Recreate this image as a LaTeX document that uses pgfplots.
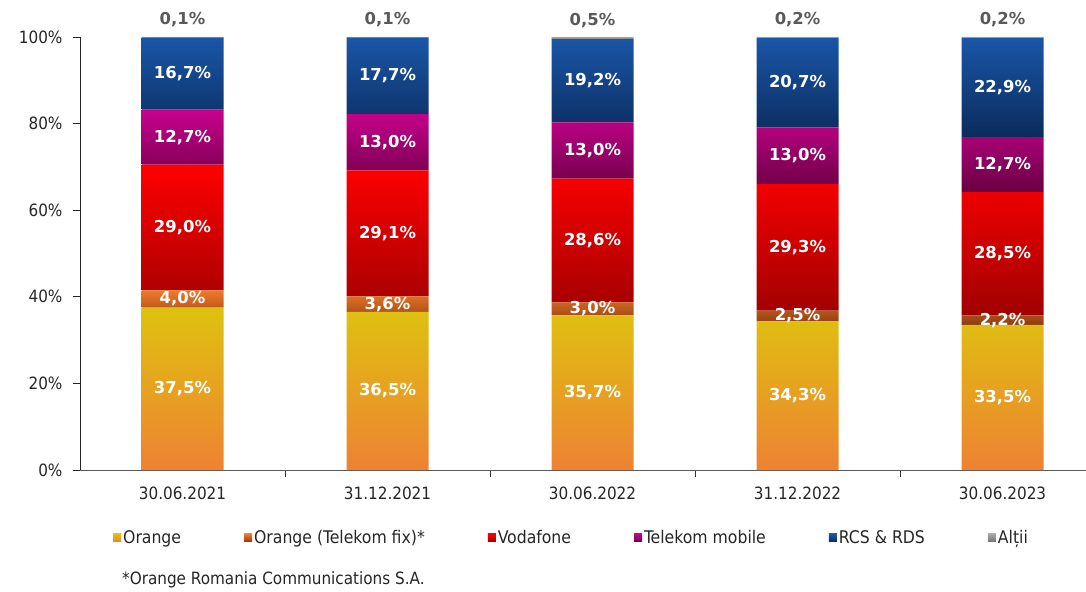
\documentclass[border=0pt]{standalone}
\usepackage{pgfplots}
\pgfplotsset{compat=1.18}
\usepackage{pgfplotstable}
\usepackage{fontspec}
\setmainfont{DejaVu Sans Condensed}
\newfontfamily\lblfont{DejaVu Sans}
\definecolor{txt}{HTML}{262626}
\definecolor{topgray}{HTML}{5A5A5A}
\definecolor{oT}{HTML}{DEC20F}
\definecolor{oB}{HTML}{EE8232}
\definecolor{tfT}{HTML}{F07A28}
\definecolor{tfB}{HTML}{8A3C12}
\definecolor{vT}{HTML}{FF0000}
\definecolor{vB}{HTML}{A00000}
\definecolor{tmT}{HTML}{C8008E}
\definecolor{tmB}{HTML}{680042}
\definecolor{rT}{HTML}{1A56A8}
\definecolor{rB}{HTML}{0B2B5C}
\definecolor{aT}{HTML}{A8A8A8}
\definecolor{aB}{HTML}{707070}

\pgfplotstableread{
x o tf v tm rcs alt
0 37.5 4.0 29.0 12.7 16.7 0.1
1 36.5 3.6 29.1 13.0 17.7 0.1
2 35.7 3.0 28.6 13.0 19.2 0.5
3 34.3 2.5 29.3 13.0 20.7 0.2
4 33.5 2.2 28.5 12.7 22.9 0.2
}\mydata

\pgfplotsset{
  base/.style={
    at={(0,0)}, anchor=south west, scale only axis,
    width=1006bp, height=433bp,
    ybar stacked, bar width=82bp,
    xmin=-0.5, xmax=4.407, ymin=0, ymax=100,
  },
  lg/.style={legend image code/.code={\fill[##1] (0bp,-4bp) rectangle (8bp,4bp);}},
}

\begin{document}
\begin{tikzpicture}
\useasboundingbox (-80bp,-122bp) rectangle (1006bp,470bp);
\begin{axis}[base,
  axis x line*=bottom, axis y line*=left,
  x axis line style={draw=black!65, line width=0.9pt},
  y axis line style={draw=black!85, line width=0.9pt},
  /pgf/number format/assume math mode=true,
  ytick={0,20,40,60,80,100},
  yticklabel={\pgfmathprintnumber{\tick}\%},
  xtick={0,1,2,3,4},
  xticklabels={30.06.2021,31.12.2021,30.06.2022,31.12.2022,30.06.2023},
  minor xtick={0.5,1.5,2.5,3.5},
  tick align=outside,
  major tick length=7bp, minor tick length=7bp,
  major x tick style={draw=none},
  minor x tick style={draw=black!80, line width=0.9pt},
  y tick style={draw=black!85, line width=0.9pt},
  tick label style={font=\fontsize{17}{20}\selectfont, text=txt},
  xticklabel style={yshift=-6bp},
  yticklabel style={xshift=-7bp},
  legend style={draw=none, fill=none, at={(0.0298,-0.157)}, anchor=west,
    font=\fontsize{17.5}{20}\selectfont, text=txt,
    /tikz/every even column/.append style={column sep=61bp}},
  legend columns=6,
  legend cell align=left,
]
\addplot[draw=none, top color=oT, bottom color=oB, lg] table[x=x,y=o]{\mydata};
\addlegendentry{Orange}
\addplot[draw=none, top color=tfT, bottom color=tfB, lg] table[x=x,y=tf]{\mydata};
\addlegendentry{Orange (Telekom fix)*}
\addplot[draw=none, top color=vT, bottom color=vB, lg] table[x=x,y=v]{\mydata};
\addlegendentry{Vodafone}
\addplot[draw=none, top color=tmT, bottom color=tmB, lg] table[x=x,y=tm]{\mydata};
\addlegendentry{Telekom mobile}
\addplot[draw=none, top color=rT, bottom color=rB, lg] table[x=x,y=rcs]{\mydata};
\addlegendentry{RCS \& RDS}
\addplot[draw=none, top color=aT, bottom color=aB, lg] table[x=x,y=alt]{\mydata};
\addlegendentry{Alții}
\end{axis}
\begin{axis}[base, hide axis,
  nodes near coords={\pgfmathprintnumber[fixed,fixed zerofill,precision=1,use comma,assume math mode=true]{\rawy}\%},
  visualization depends on=rawy \as \rawy,
  every node near coord/.style={font=\lblfont\bfseries\fontsize{16.5}{19}\selectfont, text=white, anchor=center},
]
\addplot[draw=none, fill=none] table[x=x,y=o]{\mydata};
\addplot[draw=none, fill=none] table[x=x,y=tf]{\mydata};
\addplot[draw=none, fill=none] table[x=x,y=v]{\mydata};
\addplot[draw=none, fill=none] table[x=x,y=tm]{\mydata};
\addplot[draw=none, fill=none] table[x=x,y=rcs]{\mydata};
\addplot[draw=none, fill=none, every node near coord/.style={font=\lblfont\bfseries\fontsize{16.5}{19}\selectfont, text=topgray, anchor=base, yshift=13bp}] table[x=x,y=alt]{\mydata};
\end{axis}
\node[anchor=west, font=\fontsize{17}{20}\selectfont, text=txt, inner sep=0pt] at (42bp,-110bp) {*Orange Romania Communications S.A.};
\end{tikzpicture}
\end{document}
